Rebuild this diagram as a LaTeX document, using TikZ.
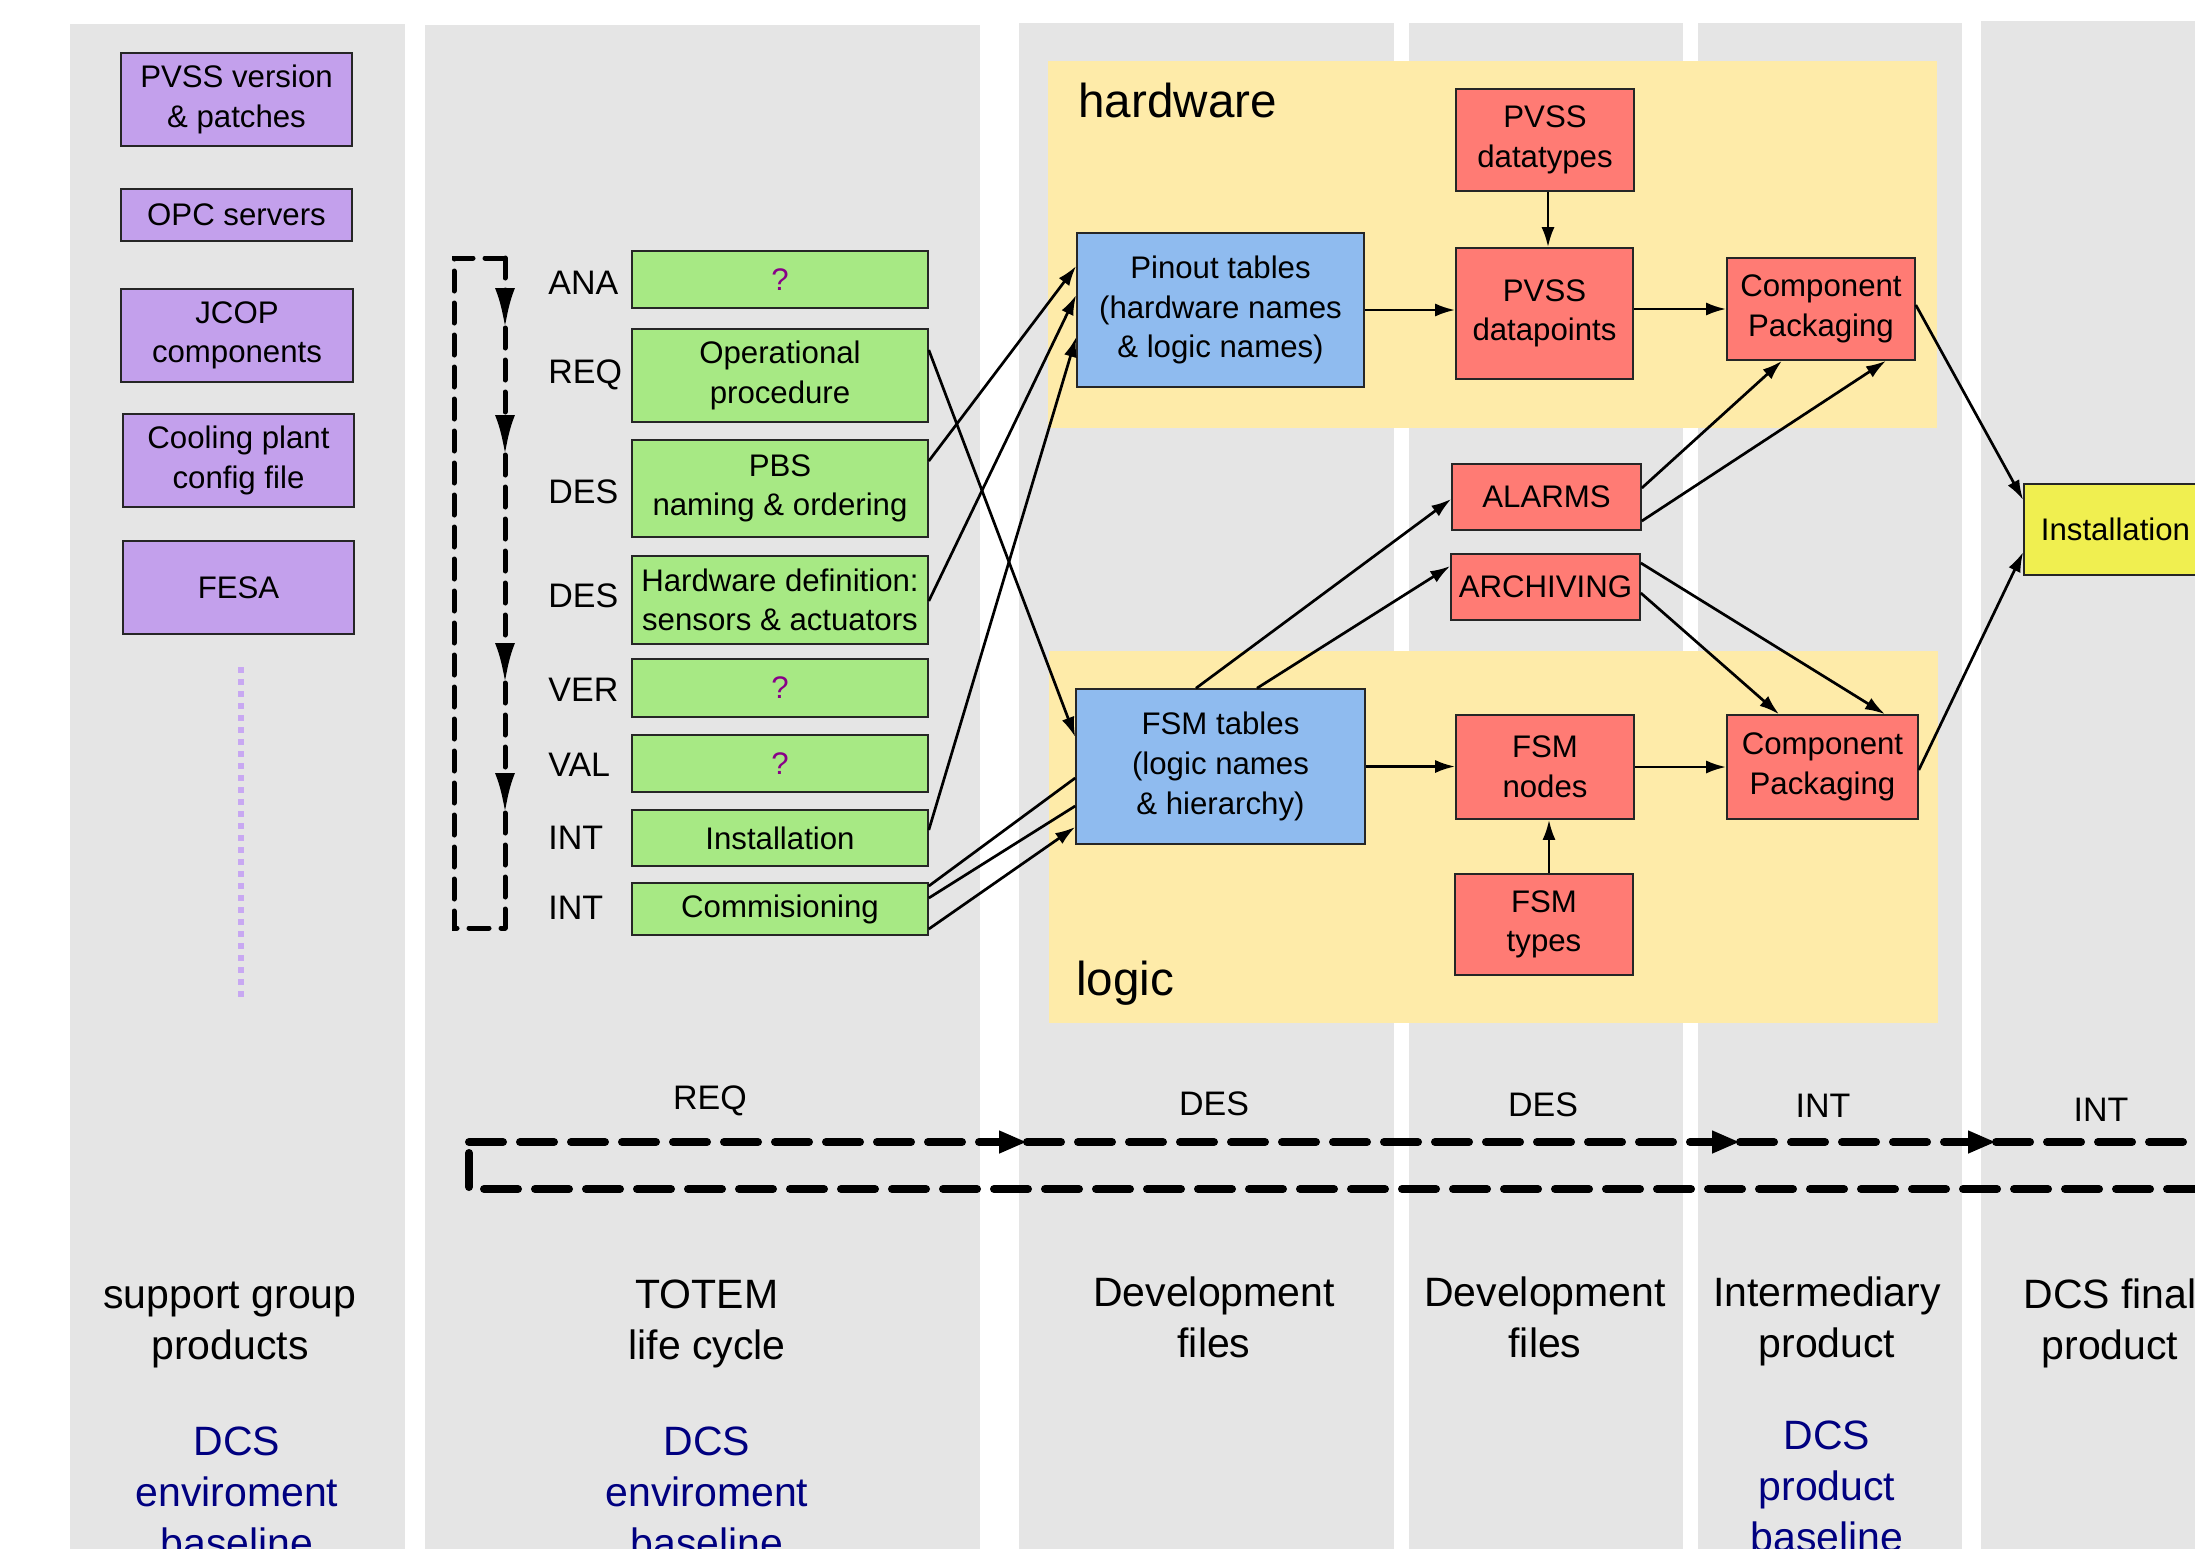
\documentclass[tikz,border=0pt]{standalone}
\usepackage{fontspec}
\setmainfont{Liberation Sans}
\usetikzlibrary{arrows.meta,calc}

\definecolor{colbg}{HTML}{E5E5E5}
\definecolor{yelbg}{HTML}{FEEBA9}
\definecolor{purp}{HTML}{C3A0EC}
\definecolor{grn}{HTML}{A7E984}
\definecolor{blu}{HTML}{8FBBEF}
\definecolor{rd}{HTML}{FF7B74}
\definecolor{ylw}{HTML}{F0EF50}
\definecolor{qm}{HTML}{880088}
\definecolor{navyt}{HTML}{000080}
\definecolor{dotp}{HTML}{C8A8F2}

\newcommand\myboxfont{\fontsize{15.6pt}{19.8pt}\selectfont}
\newcommand\mylcfont{\fontsize{17pt}{20pt}\selectfont}
\newcommand\mytitlefont{\fontsize{20.5pt}{25.5pt}\selectfont}
\newcommand\myareafont{\fontsize{23.8pt}{28pt}\selectfont}

\tikzset{
  colbox/.style={fill=colbg, draw=none},
  yelarea/.style={fill=yelbg, draw=none},
  box/.style={draw=black!85, line width=0.8pt, inner sep=0pt, align=center, font=\myboxfont},
  sz/.style 2 args={minimum width=#1*0.5pt, minimum height=#2*0.5pt},
  pbox/.style={box, fill=purp},
  gbox/.style={box, fill=grn},
  bbox/.style={box, fill=blu},
  rbox/.style={box, fill=rd},
  ybox/.style={box, fill=ylw},
  conn/.style={line width=1.35pt, -{Latex[length=10pt,width=6.5pt]}},
  connplain/.style={line width=1.35pt},
  lcdash/.style={line width=2.5pt, line cap=round, dash pattern=on 10pt off 6pt},
  lcarrow/.style={lcdash, -{Latex[length=20pt,width=10pt]}},
  bigdash/.style={line width=4pt, line cap=round, dash pattern=on 17pt off 8.5pt},
  bigarrow/.style={bigdash, -{Triangle[length=14pt,width=10.5pt]}},
  lclbl/.style={font=\mylcfont, inner sep=0pt, anchor=west},
  phaselbl/.style={font=\mylcfont, inner sep=0pt},
  title/.style={font=\mytitlefont, inner sep=0pt, align=center},
  btitle/.style={title, text=navyt},
  arealbl/.style={font=\myareafont, inner sep=0pt, anchor=west},
}

\begin{document}
\begin{tikzpicture}[x=0.5pt,y=-0.5pt]
\useasboundingbox (0,0) rectangle (2195,1548);
\clip (0,0) rectangle (2195,1548);
\fill[white] (0,0) rectangle (2195,1548);

% column backgrounds
\fill[colbox] (70,24) rectangle (405,1560);
\fill[colbox] (425,25) rectangle (980,1560);
\fill[colbox] (1019,23) rectangle (1394,1560);
\fill[colbox] (1409,23) rectangle (1683,1560);
\fill[colbox] (1698,23) rectangle (1962,1560);
\fill[colbox] (1981,21) rectangle (2260,1560);

% yellow areas
\fill[yelarea] (1048,61) rectangle (1937,428);
\fill[yelarea] (1049,651) rectangle (1938,1023);
\node[arealbl] (hwlbl) at (1078,100) {hardware};
\node[arealbl] (lglbl) at (1076,983) {logic};

% support group products
\node[pbox, sz={231}{93}] (p1) at (236.5,99.5) {PVSS version\\\& patches};
\node[pbox, sz={231}{52}] (p2) at (236.5,215) {OPC servers};
\node[pbox, sz={232}{93}] (p3) at (237,335.5) {JCOP\\components};
\node[pbox, sz={231}{93}] (p4) at (238.5,460.5) {Cooling plant\\config file};
\node[pbox, sz={231}{93}] (p5) at (238.5,587.5) {FESA};
\coordinate (dotA) at (241,667);
\coordinate (dotB) at (241,997);
\draw[dotp, line width=2.6pt, dash pattern=on 3pt off 3pt] (dotA) -- (dotB);

% life cycle labels
\node[lclbl] (l1) at (548,283) {ANA};
\node[lclbl] (l2) at (548,375) {REQ};
\node[lclbl] (l3) at (548,492) {DES};
\node[lclbl] (l4) at (548,596) {DES};
\node[lclbl] (l5) at (548,690) {VER};
\node[lclbl] (l6) at (548,765) {VAL};
\node[lclbl] (l7) at (548,838) {INT};
\node[lclbl] (l8) at (548,908) {INT};

% green boxes
\node[gbox, text=qm, sz={296}{57}] (g1) at (780,279.5) {?};
\node[gbox, sz={296}{93}] (g2) at (780,375.5) {Operational\\procedure};
\node[gbox, sz={296}{97}] (g3) at (780,488.5) {PBS\\naming \& ordering};
\node[gbox, sz={296}{88}] (g4) at (780,600) {Hardware definition:\\sensors \& actuators};
\node[gbox, text=qm, sz={296}{58}] (g5) at (780,688) {?};
\node[gbox, text=qm, sz={296}{57}] (g6) at (780,763.5) {?};
\node[gbox, sz={296}{56}] (g7) at (780,838) {Installation};
\node[gbox, sz={296}{52}] (g8) at (780,909) {Commisioning};

% life cycle loop
\coordinate (lA) at (454,258);
\coordinate (lB) at (505,258);
\coordinate (lC) at (454,928);
\coordinate (lD) at (505,928);
\coordinate (t1) at (505,328);
\coordinate (t2) at (505,455);
\coordinate (t3) at (505,683);
\coordinate (t4) at (505,813);
\draw[lcdash] (lB) -- (lA) -- (lC) -- (lD);
\draw[lcarrow] (lB) -- (t1);
\draw[lcarrow] (t1) -- (t2);
\draw[lcarrow] (t2) -- (t3);
\draw[lcarrow] (t3) -- (t4);
\draw[lcdash] (t4) -- (lD);

% blue boxes
\node[bbox, sz={287}{154}] (pin) at (1220.5,310) {Pinout tables\\(hardware names\\\& logic names)};
\node[bbox, sz={289}{155}] (fsm) at (1220.5,766.5) {FSM tables\\(logic names\\\& hierarchy)};

% red boxes
\node[rbox, sz={178}{102}] (dt) at (1545,140) {PVSS\\datatypes};
\node[rbox, sz={177}{131}] (dp) at (1544.5,313.5) {PVSS\\datapoints};
\node[rbox, sz={188}{102}] (cpt) at (1821,309) {Component\\Packaging};
\node[rbox, sz={189}{66}] (alm) at (1546.5,497) {ALARMS};
\node[rbox, sz={189}{66}] (arc) at (1545.5,587) {ARCHIVING};
\node[rbox, sz={178}{104}] (fn) at (1545,767) {FSM\\nodes};
\node[rbox, sz={191}{104}] (cpb) at (1822.5,767) {Component\\Packaging};
\node[rbox, sz={178}{101}] (ft) at (1544,924.5) {FSM\\types};

% final product
\node[ybox, sz={183}{91}] (inst) at (2115.5,529.5) {Installation};

% connectors in the development area
\draw[conn] (pin.east) -- (pin.east -| dp.west);
\draw[conn] ([xshift=1.5pt]dt.south) -- ([xshift=1.5pt]dt.south |- dp.north);
\draw[conn] (cpt.west -| dp.east) -- (cpt.west);
\draw[conn] ([yshift=2pt]cpt.east) -- ([yshift=14.75pt]inst.west);
\draw[conn] ([yshift=-1.5pt]cpb.east) -- ([yshift=-11.25pt]inst.west);
\draw[conn] ([yshift=4.5pt]alm.east) -- ([xshift=-19.5pt]cpt.south);
\draw[conn] ([yshift=-12pt]alm.east) -- ([xshift=32.5pt]cpt.south);
\draw[conn] ([yshift=12pt]arc.east) -- ([xshift=31.25pt]cpb.north);
\draw[conn] ([yshift=-3pt]arc.east) -- ([xshift=-21.75pt]cpb.north);
\draw[conn] ([xshift=-12.25pt]fsm.north) -- ([yshift=-1pt]alm.west);
\draw[conn] ([xshift=18.25pt]fsm.north) -- ([yshift=10.5pt]arc.west);
\draw[conn] (fsm.east) -- (fsm.east -| fn.west);
\draw[conn] (fn.east) -- (cpb.west);
\draw[conn] ([xshift=2.5pt]ft.north) -- ([xshift=2.5pt]ft.north |- fn.south);

% connectors from the life cycle
\draw[conn] ([yshift=13.75pt]g3.east) -- ([yshift=22pt]pin.west);
\draw[conn] ([yshift=-0.5pt]g4.east) -- ([yshift=7.5pt]pin.west);
\draw[conn] ([yshift=4pt]g7.east) -- ([yshift=-13.5pt]pin.west);
\draw[conn] ([yshift=12.75pt]g2.east) -- ([yshift=14.75pt]fsm.west);
\draw[connplain] ([yshift=11.5pt]g8.east) -- ([yshift=-5.75pt]fsm.west);
\draw[connplain] ([yshift=5.5pt]g8.east) -- ([yshift=-19.75pt]fsm.west);
\draw[conn] ([yshift=-10pt]g8.east) -- ([yshift=-30.25pt]fsm.west);

% bottom phase flow
\node[phaselbl] (ph1) at (710,1101) {REQ};
\node[phaselbl] (ph2) at (1214,1104) {DES};
\node[phaselbl] (ph3) at (1543,1105) {DES};
\node[phaselbl] (ph4) at (1823,1106) {INT};
\node[phaselbl] (ph5) at (2101,1110) {INT};
\coordinate (bA) at (469,1142);
\coordinate (b1) at (1027,1142);
\coordinate (b2) at (1740,1142);
\coordinate (b3) at (1996,1142);
\coordinate (bE) at (2260,1142);
\coordinate (bV1) at (469,1153);
\coordinate (bV2) at (469,1189);
\coordinate (bF) at (2260,1189);
\draw[bigdash] (bV1) -- (bV2) -- (bF);
\draw[bigarrow] (bA) -- (b1);
\draw[bigarrow] (b1) -- (b2);
\draw[bigarrow] (b2) -- (b3);
\draw[bigdash] (b3) -- (bE);

% column titles
\node[title] (c1) at (230,1325) {support group\\products};
\node[title] (c2) at (707,1324) {TOTEM\\life cycle};
\node[title] (c3) at (1214,1317) {Development\\files};
\node[title] (c4) at (1545,1317) {Development\\files};
\node[title] (c5) at (1827,1321) {Intermediary\\product};
\node[title] (c6) at (2110,1323) {DCS final\\product};
\node[btitle] (d1) at (237,1492) {DCS\\enviroment\\baseline};
\node[btitle] (d2) at (707,1492) {DCS\\enviroment\\baseline};
\node[btitle] (d5) at (1827,1486) {DCS\\product\\baseline};
\end{tikzpicture}
\end{document}
